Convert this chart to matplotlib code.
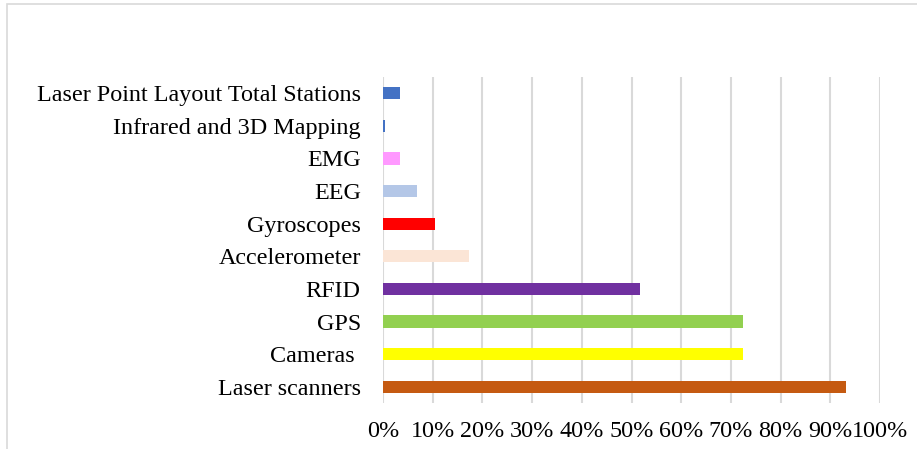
import matplotlib.pyplot as plt
from matplotlib.patches import Rectangle
from matplotlib.ticker import PercentFormatter

# bottom to top, as the bars stack in the chart
categories = ["Laser scanners", "Cameras ", "GPS", "RFID", "Accelerometer",
              "Gyroscopes", "EEG", "EMG", "Infrared and 3D Mapping",
              "Laser Point Layout Total Stations"]
shares = [93.2, 72.5, 72.5, 51.7, 17.3, 10.5, 6.8, 3.4, 0.4, 3.4]
colors = ["#C55A11", "#FFFF00", "#92D050", "#7030A0", "#FBE5D6",
          "#FF0000", "#B4C7E7", "#FF99FF", "#4472C4", "#4472C4"]

plt.rcParams['font.family'] = ['Liberation Serif', 'DejaVu Serif']

fig = plt.figure(figsize=(9.17, 4.49), dpi=100)
ax = fig.add_axes([383 / 917, 46 / 449, 497 / 917, 326 / 449])

ax.barh(range(len(categories)), shares, height=0.37, color=colors, zorder=3)

ax.set_xlim(0, 100)
ax.set_ylim(-0.5, len(categories) - 0.5)
ax.set_xticks(range(0, 101, 10))
ax.xaxis.set_major_formatter(PercentFormatter(decimals=0))
ax.set_yticks(range(len(categories)))
ax.set_yticklabels(categories)

ax.grid(axis='x', color='#d9d9d9', linewidth=1.5, zorder=0)
for s in ax.spines.values():
    s.set_visible(False)
ax.tick_params(axis='both', length=0, labelsize=17.4, colors='black')
ax.tick_params(axis='x', pad=13)
ax.tick_params(axis='y', pad=16)

# chart-area border, running off the right and bottom edges
fig.add_artist(Rectangle((7 / 917, -0.1), 1.2, (449 - 4) / 449 + 0.1,
                         transform=fig.transFigure, fill=False,
                         edgecolor='#d9d9d9', linewidth=1.2))

fig.savefig("out.png", dpi=100)
